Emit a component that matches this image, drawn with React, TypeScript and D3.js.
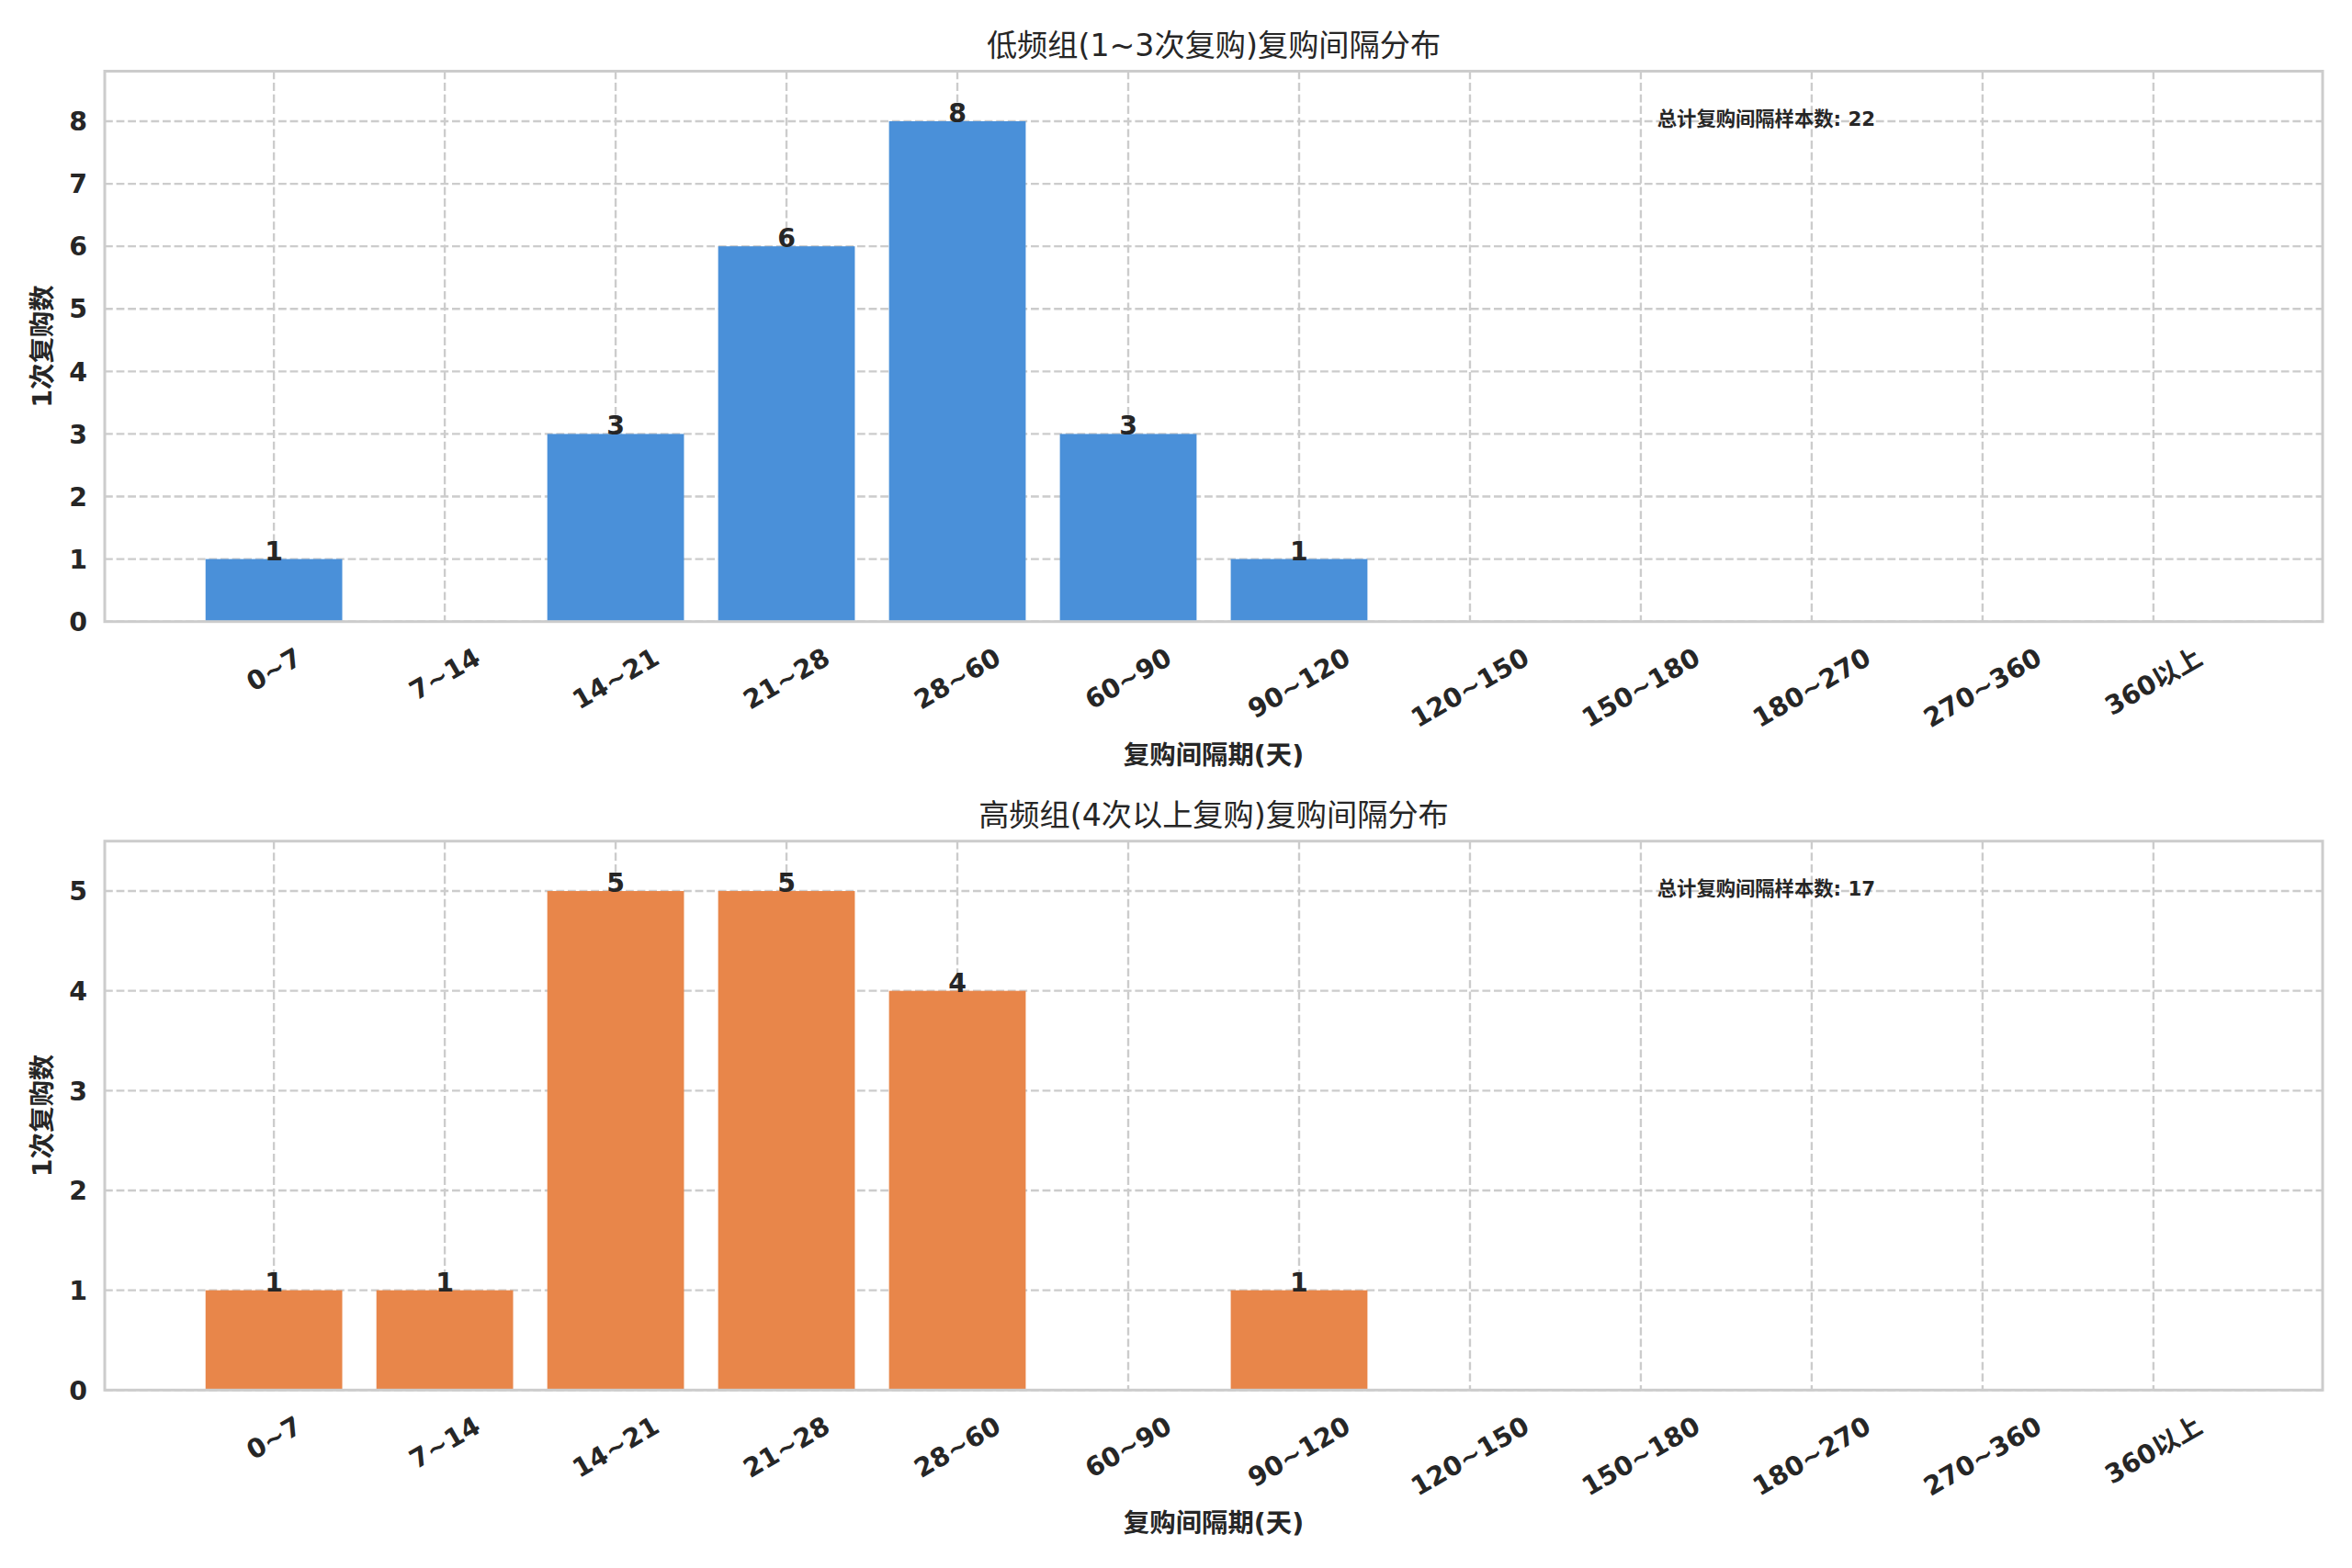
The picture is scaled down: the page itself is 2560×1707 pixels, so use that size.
import React from 'react';
import * as d3 from 'd3';

const categories = ['0~7', '7~14', '14~21', '21~28', '28~60', '60~90', '90~120', '120~150', '150~180', '180~270', '270~360', '360以上'];
const lowFreqCounts = [1, 0, 3, 6, 8, 3, 1, 0, 0, 0, 0, 0];
const highFreqCounts = [1, 1, 5, 5, 4, 0, 1, 0, 0, 0, 0, 0];
const panelTitles = ['低频组(1~3次复购)复购间隔分布', '高频组(4次以上复购)复购间隔分布'];
const totalLabel = '总计复购间隔样本数';
const xAxisLabel = '复购间隔期(天)';
const yAxisLabel = '1次复购数';

const W = 2560;
const H = 1707;
const FONT = '"DejaVu Sans", "Noto Sans CJK SC", sans-serif';
const TEXT = '#262626';
const GRID = '#cccccc';

const measureCanvas = typeof document !== 'undefined' ? document.createElement('canvas').getContext('2d') : null;
function measure(text: string, font: string): number {
  if (!measureCanvas) return text.length * 18;
  measureCanvas.font = font;
  return measureCanvas.measureText(text).width;
}

type PanelProps = {
  values: number[];
  color: string;
  title: string;
  top: number;
  bottom: number;
  yMax: number;
};

const LEFT = 114;
const RIGHT = 2528;
const TICK_FS = 28.4;

function Panel({ values, color, title, top, bottom, yMax }: PanelProps) {
  const x = d3.scaleLinear().domain([-0.99, categories.length - 1 + 0.99]).range([LEFT, RIGHT]);
  const y = d3.scaleLinear().domain([0, yMax]).range([bottom, top]);
  const yTicks = d3.range(0, Math.floor(yMax) + 1);
  const bw = x(0.4) - x(0);
  const total = d3.sum(values);
  const cx = (LEFT + RIGHT) / 2;
  const tickFont = `bold ${TICK_FS}px ${FONT}`;
  const rot = Math.PI / 6;
  const labelTop = bottom + 22;
  return (
    <g>
      {/* grid */}
      {yTicks.map((t) => (
        <line key={'gy' + t} x1={LEFT} x2={RIGHT} y1={y(t)} y2={y(t)} stroke={GRID} strokeWidth={2.37} strokeDasharray="8.8,3.8" />
      ))}
      {categories.map((c, i) => (
        <line key={'gx' + c} x1={x(i)} x2={x(i)} y1={top} y2={bottom} stroke={GRID} strokeWidth={2.37} strokeDasharray="8.8,3.8" />
      ))}
      {/* bars */}
      {values.map((v, i) =>
        v > 0 ? (
          <rect key={'b' + i} x={x(i) - bw} y={y(v)} width={2 * bw} height={y(0) - y(v)} fill={color} />
        ) : null
      )}
      {/* spines */}
      <rect x={LEFT} y={top} width={RIGHT - LEFT} height={bottom - top} fill="none" stroke={GRID} strokeWidth={3} />
      {/* bar labels */}
      {values.map((v, i) =>
        v > 0 ? (
          <text key={'l' + i} x={x(i)} y={y(v) + 1} textAnchor="middle" fontFamily={FONT} fontWeight="bold" fontSize={TICK_FS} fill={TEXT}>
            {v}
          </text>
        ) : null
      )}
      {/* y ticks */}
      {yTicks.map((t) => (
        <text key={'yt' + t} x={95} y={y(t)} dy="0.36em" textAnchor="end" fontFamily={FONT} fontWeight="bold" fontSize={TICK_FS} fill={TEXT}>
          {t}
        </text>
      ))}
      {/* x ticks */}
      {categories.map((c, i) => {
        const w = measure(c, tickFont);
        const h = 1.164 * TICK_FS;
        const bh = w * Math.sin(rot) + h * Math.cos(rot);
        const cy = labelTop + bh / 2;
        return (
          <text
            key={'xt' + c}
            transform={`translate(${x(i)},${cy}) rotate(-30)`}
            y={0}
            dy={0.346 * TICK_FS}
            textAnchor="middle"
            fontFamily={FONT}
            fontWeight="bold"
            fontSize={TICK_FS}
            fill={TEXT}
          >
            {c}
          </text>
        );
      })}
      {/* axis labels */}
      <text x={cx} y={bottom + 155} textAnchor="middle" fontFamily={FONT} fontWeight="bold" fontSize={28.4} fill={TEXT}>
        {xAxisLabel}
      </text>
      <text transform={`translate(46,${(top + bottom) / 2}) rotate(-90)`} dy="0.35em" textAnchor="middle" fontFamily={FONT} fontWeight="bold" fontSize={28.4} fill={TEXT}>
        {yAxisLabel}
      </text>
      {/* title */}
      <text x={cx} y={top - 16.5} textAnchor="middle" fontFamily={FONT} fontSize={33.2} fill={TEXT}>
        {title}
      </text>
      {/* total annotation */}
      <text x={LEFT + 0.7 * (RIGHT - LEFT)} y={bottom - 0.9 * (bottom - top)} fontFamily={FONT} fontWeight="bold" fontSize={21.3} fill={TEXT}>
        {`${totalLabel}: ${total}`}
      </text>
    </g>
  );
}

export default function App() {
  return (
    <svg width={W} height={H} viewBox={`0 0 ${W} ${H}`} style={{ position: 'absolute', left: 0, top: 0, background: '#ffffff' }}>
      <rect x={0} y={0} width={W} height={H} fill="#ffffff" />
      <Panel values={lowFreqCounts} color="#4a90d9" title={panelTitles[0]} top={77.5} bottom={676.7} yMax={d3.max(lowFreqCounts)! * 1.1} />
      <Panel values={highFreqCounts} color="#e8864a" title={panelTitles[1]} top={915.7} bottom={1513.3} yMax={d3.max(highFreqCounts)! * 1.1} />
    </svg>
  );
}
